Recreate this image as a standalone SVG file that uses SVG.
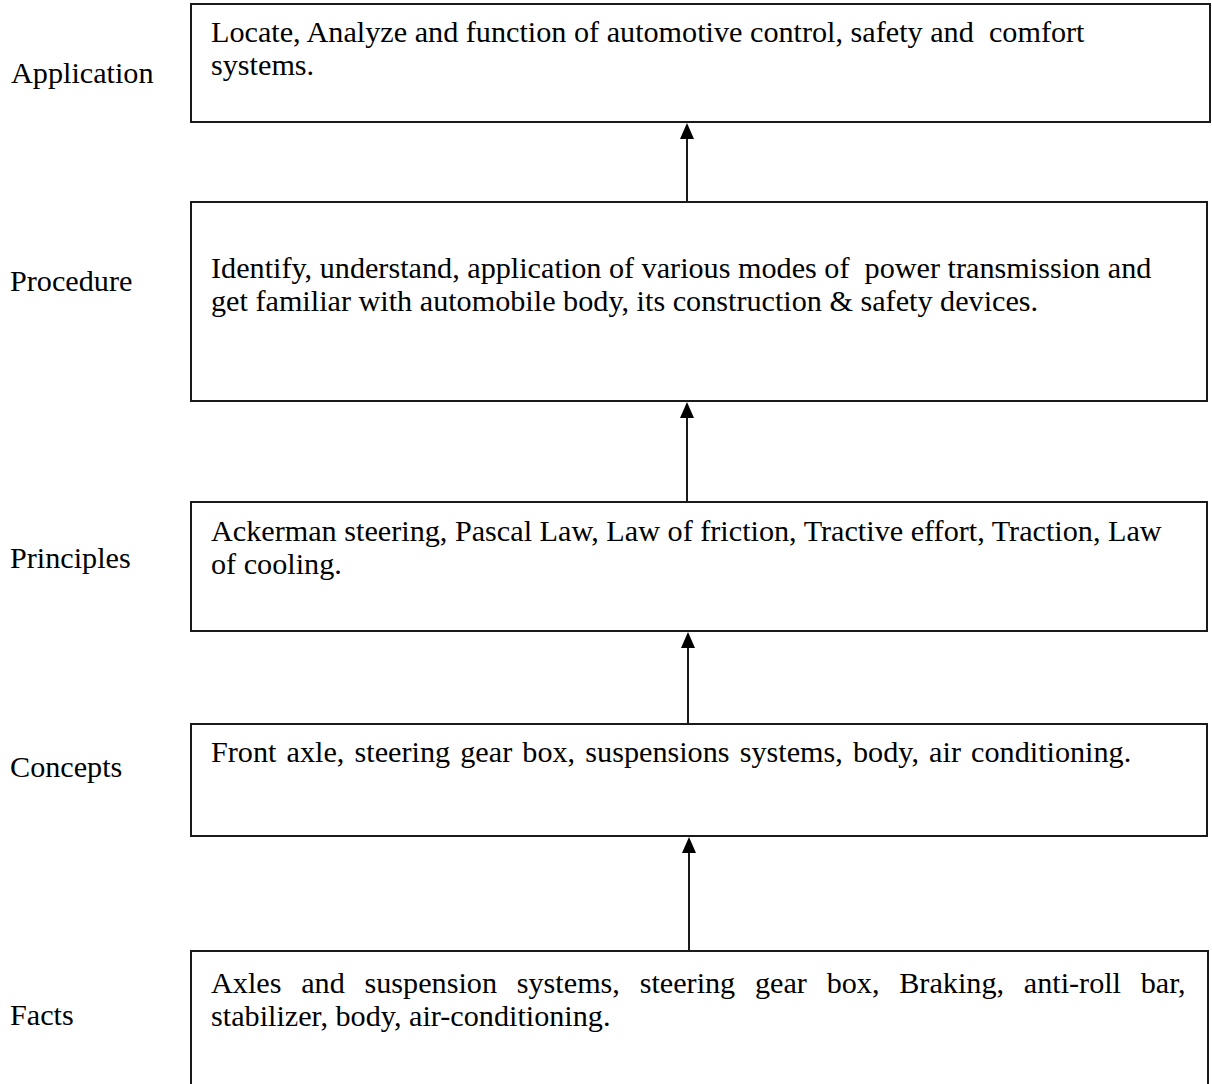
<svg xmlns="http://www.w3.org/2000/svg" width="1212" height="1084" viewBox="0 0 1212 1084">
<defs>
<style>
text{font-family:"Liberation Serif","Times New Roman",serif;font-size:30.2px;fill:#000}
.box{fill:#fff;stroke:#1a1a1a;stroke-width:2}
.conn{stroke:#1a1a1a;stroke-width:2;fill:none}
.head{fill:#000}
</style>
</defs>
<rect width="1212" height="1084" fill="#fff"/>
<g id="labels">
<text x="11" y="83">Application</text>
<text x="10" y="291">Procedure</text>
<text x="10" y="568">Principles</text>
<text x="10" y="777">Concepts</text>
<text x="10" y="1025">Facts</text>
</g>
<g id="connectors">
<line class="conn" x1="687" y1="201" x2="687" y2="130"/>
<line class="conn" x1="687" y1="501" x2="687" y2="410"/>
<line class="conn" x1="688" y1="723" x2="688" y2="640"/>
<line class="conn" x1="689" y1="950" x2="689" y2="845"/>
<path class="head" d="M687 123 L680 139 L694 139 Z"/>
<path class="head" d="M687 402 L680 418 L694 418 Z"/>
<path class="head" d="M688 632 L681 648 L695 648 Z"/>
<path class="head" d="M689 837 L682 853 L696 853 Z"/>
</g>
<g id="node-application">
<rect class="box" x="191" y="4" width="1019" height="118"/>
<text x="211" y="42" xml:space="preserve">Locate, Analyze and function of automotive control, safety and  comfort</text>
<text x="211" y="75">systems.</text>
</g>
<g id="node-procedure">
<rect class="box" x="191" y="202" width="1016" height="199"/>
<text x="211" y="278" xml:space="preserve">Identify, understand, application of various modes of  power transmission and</text>
<text x="211" y="311">get familiar with automobile body, its construction &amp; safety devices.</text>
</g>
<g id="node-principles">
<rect class="box" x="191" y="502" width="1016" height="129"/>
<text x="211" y="541">Ackerman steering, Pascal Law, Law of friction, Tractive effort, Traction, Law</text>
<text x="211" y="574">of cooling.</text>
</g>
<g id="node-concepts">
<rect class="box" x="191" y="724" width="1016" height="112"/>
<text x="211" y="762" word-spacing="2.6">Front axle, steering gear box, suspensions systems, body, air conditioning.</text>
</g>
<g id="node-facts">
<rect class="box" x="191" y="951" width="1017" height="150"/>
<text x="211" y="993" word-spacing="12.2">Axles and suspension systems, steering gear box, Braking, anti-roll bar,</text>
<text x="211" y="1026">stabilizer, body, air-conditioning.</text>
</g>
</svg>
